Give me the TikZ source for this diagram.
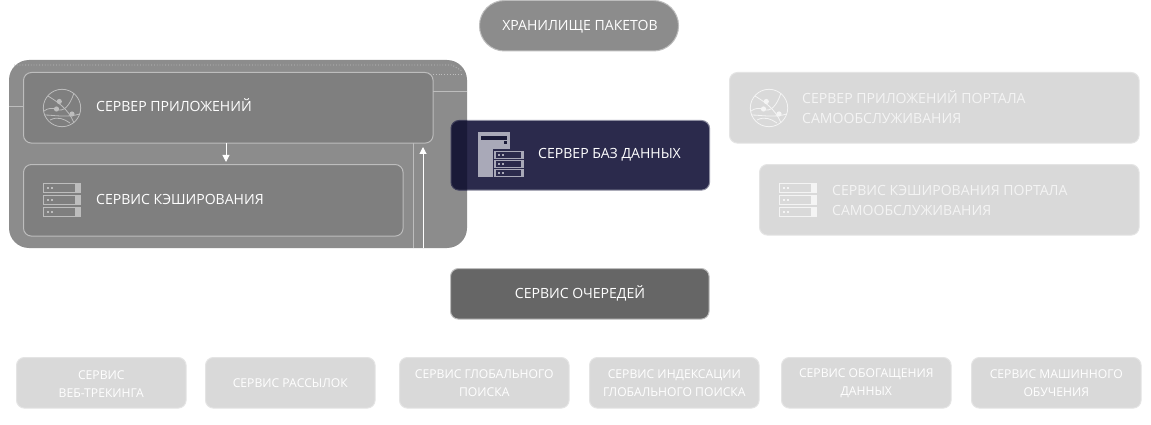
\documentclass[tikz,border=0pt]{standalone}
\usepackage{fontspec}
\setmainfont{Open Sans}
\usetikzlibrary{arrows.meta}
\definecolor{outerg}{HTML}{8C8C8C}
\definecolor{innerg}{HTML}{7F7F7F}
\definecolor{edgeg}{HTML}{BDBDBD}
\definecolor{pale}{HTML}{D9D9D9}
\definecolor{paleedge}{HTML}{E4E4E4}
\definecolor{palei}{HTML}{F4F4F4}
\definecolor{navy}{HTML}{2B2A4C}
\definecolor{navyd}{HTML}{1A1A38}
\definecolor{navye}{HTML}{8E8EA0}
\definecolor{navyi}{HTML}{A9A9B8}
\definecolor{queueg}{HTML}{666666}
\tikzset{
  x=1pt,y=-1pt,
  panel/.style={draw=#1,line width=1pt,rounded corners=8pt,inner sep=0pt,outer sep=0pt,anchor=north west},
  txt/.style={text=white,inner sep=0pt,font=\fontsize{14.05}{20}\selectfont,align=left,anchor=west},
  txtc/.style={text=white,inner sep=0pt,font=\fontsize{14.05}{20}\selectfont,align=center},
  small/.style={text=white,inner sep=0pt,font=\fontsize{12.15}{18}\selectfont,align=center},
  wire/.style={draw=#1,line width=1pt},
  arrowline/.style={draw=white,line width=1pt,-{Triangle[length=7pt,width=7pt]}},
}
\newcommand{\boxat}[7]{% name, x, y, w, h, fill, edge
  \node[panel=#7,fill=#6,minimum width=#4pt-.4pt,minimum height=#5pt-.4pt] (#1) at (#2+.5,#3+.5) {};}
\newcommand{\rackrow}[3]{% x, y, colour
  \fill[#3] (#1+32,#2) rectangle (#1+38,#2+10);
  \draw[#3,line width=.8pt] (#1+.4,#2+.4) rectangle (#1+32,#2+9.6);
  \fill[#3] (#1+4,#2+4) rectangle (#1+6,#2+6);
  \fill[#3] (#1+7.5,#2+4) rectangle (#1+9.5,#2+6);}
\newcommand{\rackicon}[3]{%
  \rackrow{#1}{#2}{#3}\rackrow{#1}{#2+12}{#3}\rackrow{#1}{#2+24}{#3}}
\newcommand{\globeicon}[3]{\begin{scope}[shift={(#1,#2)},draw=#3,line width=.8pt]
  \draw (0,0) circle[radius=18.7];
  \draw (-14,-12) .. controls (-6,-7) and (6,0) .. (12,15);
  \draw (12,-15) .. controls (8,-3) and (2,5) .. (-6,1) .. controls (-10,0) and (-14,0) .. (-18,3);
  \draw (-18,7) .. controls (-8,7) and (4,10) .. (18,6);
  \draw (-12,12) .. controls (-4,8) and (2,11) .. (8,15);
  \fill[#3] (-2.7,-6.5) circle[radius=2.6];
  \fill[#3] (-5.5,1) circle[radius=2.6];
  \fill[#3] (10,6) circle[radius=2.6];
\end{scope}}
\newcommand{\dbrow}[1]{%
  \fill[navyi] (494,#1) rectangle (524,#1+8.3);
  \fill[navy] (495.5,#1+1.2) rectangle (521,#1+7);
  \fill[navyi] (498,#1+3) rectangle (500,#1+5);
  \fill[navyi] (501.5,#1+3) rectangle (503.5,#1+5);}
\begin{document}
\begin{tikzpicture}
\useasboundingbox (0,0) rectangle (1151,425);
\fill[white] (0,0) rectangle (1151,425);
% top pill
\node[draw=edgeg,line width=1pt,fill=outerg,rounded corners=25pt,minimum width=199pt,minimum height=50.5pt,inner sep=0pt,outer sep=0pt,anchor=north west] (store) at (479.5,.5) {};
\node[txtc] (storet) at (580,26.5) {ХРАНИЛИЩЕ ПАКЕТОВ};
% grey group
\node[fill=outerg,rounded corners=20pt,minimum width=458pt,minimum height=188pt,inner sep=0pt,outer sep=0pt,anchor=north west] (group) at (9,60) {};
\draw[edgeg,line width=.8pt,dotted] (14,65) -- (452,65) -- (462,71);
\draw[edgeg,line width=.8pt,dotted] (433,74) -- (462,74);
\boxat{app}{23}{72}{410}{71}{innerg}{edgeg}
\boxat{cache}{23}{164}{380}{72}{innerg}{edgeg}
\coordinate (groupl) at (9,107);
\coordinate (groupr) at (467,92);
\coordinate (groupb1) at (413,248);
\coordinate (groupb2) at (423,248);
\coordinate (arrowt) at (423,147);
\coordinate (appb) at (413,143);
\coordinate (appm) at (226,143);
\coordinate (cachem) at (226,162);
\draw[wire=edgeg] (groupl) -- (23,107);
\draw[wire=edgeg] (433,92) -- (groupr);
\draw[wire=edgeg] (appb) -- (groupb1);
\draw[arrowline] (groupb2) -- (arrowt);
\draw[arrowline] (appm) -- (cachem);
\globeicon{62}{108}{edgeg}
\node[txt] (appt) at (96,105.5) {СЕРВЕР ПРИЛОЖЕНИЙ};
\rackicon{43}{183}{edgeg}
\node[txt] (cachet) at (96,199.5) {СЕРВИС КЭШИРОВАНИЯ};
% database
\boxat{db}{450.5}{120}{259}{70}{navy}{navye}
\begin{scope}
  \clip (450,119) rectangle (467,191);
  \node[panel=navyd!70!navye,fill=navyd,minimum width=258.6pt,minimum height=69.6pt] at (451,120.5) {};
\end{scope}
\fill[navyi] (478,132) rectangle (510,177);
\fill[navy] (493,149) rectangle (526,178);
\fill[navyd] (481,136) rectangle (507,140);
\fill[navyd] (504,141) rectangle (507,144);
\dbrow{151}\dbrow{160}\dbrow{169}
\node[txt] (dbt) at (538,155) {СЕРВЕР БАЗ ДАННЫХ};
% queue
\boxat{queue}{450}{268}{259}{51}{queueg}{edgeg}
\node[txtc] (queuet) at (580,293) {СЕРВИС ОЧЕРЕДЕЙ};
% portal
\boxat{papp}{729}{72}{410}{71}{pale}{paleedge}
\globeicon{769}{108}{palei}
\node[txt,text=palei] (pappt) at (802,107.5) {СЕРВЕР ПРИЛОЖЕНИЙ ПОРТАЛА\\САМООБСЛУЖИВАНИЯ};
\boxat{pcache}{759}{164}{380}{71}{pale}{paleedge}
\rackicon{779}{183}{palei}
\node[txt,text=palei] (pcachet) at (832,200) {СЕРВИС КЭШИРОВАНИЯ ПОРТАЛА\\САМООБСЛУЖИВАНИЯ};
% bottom row
\boxat{s1}{16}{357}{170}{51}{pale}{paleedge}
\boxat{s2}{205}{357}{170}{51}{pale}{paleedge}
\boxat{s3}{399}{357}{170}{51}{pale}{paleedge}
\boxat{s4}{589}{357}{170}{51}{pale}{paleedge}
\boxat{s5}{781}{357}{170}{51}{pale}{paleedge}
\boxat{s6}{971}{357}{170}{51}{pale}{paleedge}
\node[small,yshift=-.8pt] (s1t) at (s1.center) {СЕРВИС\\ВЕБ-ТРЕКИНГА};
\node[small,yshift=-.8pt] (s2t) at (s2.center) {СЕРВИС РАССЫЛОК};
\node[small,yshift=-.8pt] (s3t) at (s3.center) {СЕРВИС ГЛОБАЛЬНОГО\\ПОИСКА};
\node[small,yshift=-.8pt] (s4t) at (s4.center) {СЕРВИС ИНДЕКСАЦИИ\\ГЛОБАЛЬНОГО ПОИСКА};
\node[small,yshift=-.8pt] (s5t) at (s5.center) {СЕРВИС ОБОГАЩЕНИЯ\\ДАННЫХ};
\node[small,yshift=-.8pt] (s6t) at (s6.center) {СЕРВИС МАШИННОГО\\ОБУЧЕНИЯ};
\end{tikzpicture}
\end{document}
